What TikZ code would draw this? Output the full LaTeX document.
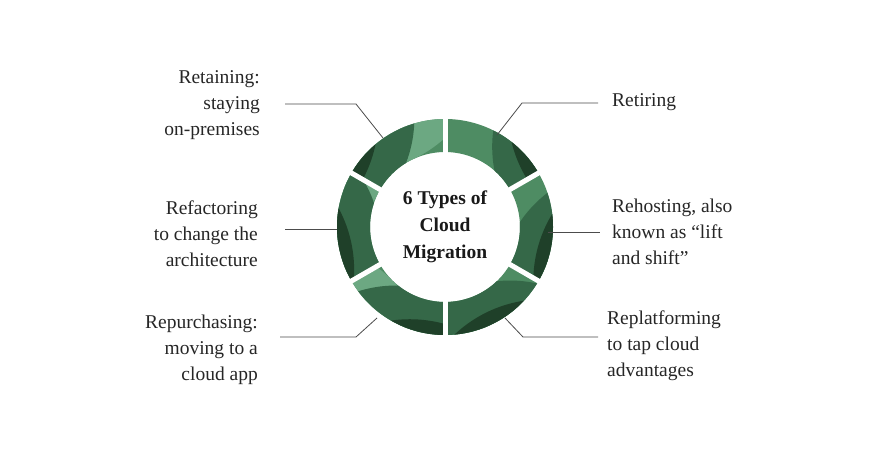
\documentclass[tikz,border=0pt]{standalone}
\usetikzlibrary{calc}
\usepackage{fontspec}
\setmainfont{Liberation Serif}
\begin{document}
\begin{tikzpicture}[x=1pt,y=-1pt,
  lbl/.style={font=\fontsize{19.5}{26}\selectfont, text=black!85, inner sep=0pt},
  leader/.style={draw=black!70, line width=0.8pt}]
\fill[white!97!black!2] (0,0) rectangle (888,450);
\useasboundingbox (0,0) rectangle (888,450);
\coordinate (c) at (445,227);
\definecolor{gA}{HTML}{4E8C63}
\definecolor{gB}{HTML}{356848}
\definecolor{gC}{HTML}{1F4029}
\definecolor{gD}{HTML}{6CA882}
\newcommand\segm[3]{% start angle, end angle, band direction
  \begin{scope}
    \clip (c) ++(#1:108) arc[start angle=#1,end angle=#2,radius=108] -- ($(c)+(#2:75)$) arc[start angle=#2,end angle=#1,radius=75] -- cycle;
    \fill[gA] (c) circle[radius=110];
    \fill[gD] ($(c)+(#3+30:200)$) circle[radius=125];
    \fill[gB] ($(c)+(#3:190)$) circle[radius=125];
    \fill[gC] ($(c)+(#3-6:225)$) circle[radius=130];
  \end{scope}}
\segm{30}{90}{70}
\segm{-30}{30}{20}
\segm{-90}{-30}{-25}
\segm{210}{270}{215}
\segm{150}{210}{175}
\segm{90}{150}{105}
\foreach \a in {90,30,-30,-90,210,150}
  \draw[white, line width=5pt] ($(c)+(\a:70)$) -- ($(c)+(\a:112)$);
\node[font=\fontsize{19.5}{27}\selectfont\bfseries, align=center, text=black!90] (t) at (c) {6 Types of\\Cloud\\Migration};
% leaders
\coordinate (r1a) at (497,135); \coordinate (r1b) at (522,103); \coordinate (r1c) at (598,103);
\draw[leader] (r1a) -- (r1b) -- (r1c);
\node[lbl, anchor=west] (L1) at (612,102) {Retiring};
\coordinate (r2a) at (548,232); \coordinate (r2b) at (600,232);
\draw[leader] (r2a) -- (r2b);
\node[lbl, anchor=west, align=left] (L2) at (612,232) {Rehosting, also\\known as “lift\\and shift”};
\coordinate (r3a) at (505,318); \coordinate (r3b) at (523,337); \coordinate (r3c) at (598,337);
\draw[leader] (r3a) -- (r3b) -- (r3c);
\node[lbl, anchor=west, align=left] (L3) at (607,346) {Replatforming\\to tap cloud\\advantages};
\coordinate (l1a) at (383,138); \coordinate (l1b) at (356,104); \coordinate (l1c) at (285,104);
\draw[leader] (l1a) -- (l1b) -- (l1c);
\node[lbl, anchor=east, align=right] (R1) at (260,105) {Retaining:\\staying\\on-premises};
\coordinate (l2a) at (337,229); \coordinate (l2b) at (285,229);
\draw[leader] (l2a) -- (l2b);
\node[lbl, anchor=east, align=right] (R2) at (258,234) {Refactoring\\to change the\\architecture};
\coordinate (l3a) at (377,318); \coordinate (l3b) at (356,337); \coordinate (l3c) at (280,337);
\draw[leader] (l3a) -- (l3b) -- (l3c);
\node[lbl, anchor=east, align=right] (R3) at (258,350) {Repurchasing:\\moving to a\\cloud app};
\end{tikzpicture}
\end{document}
